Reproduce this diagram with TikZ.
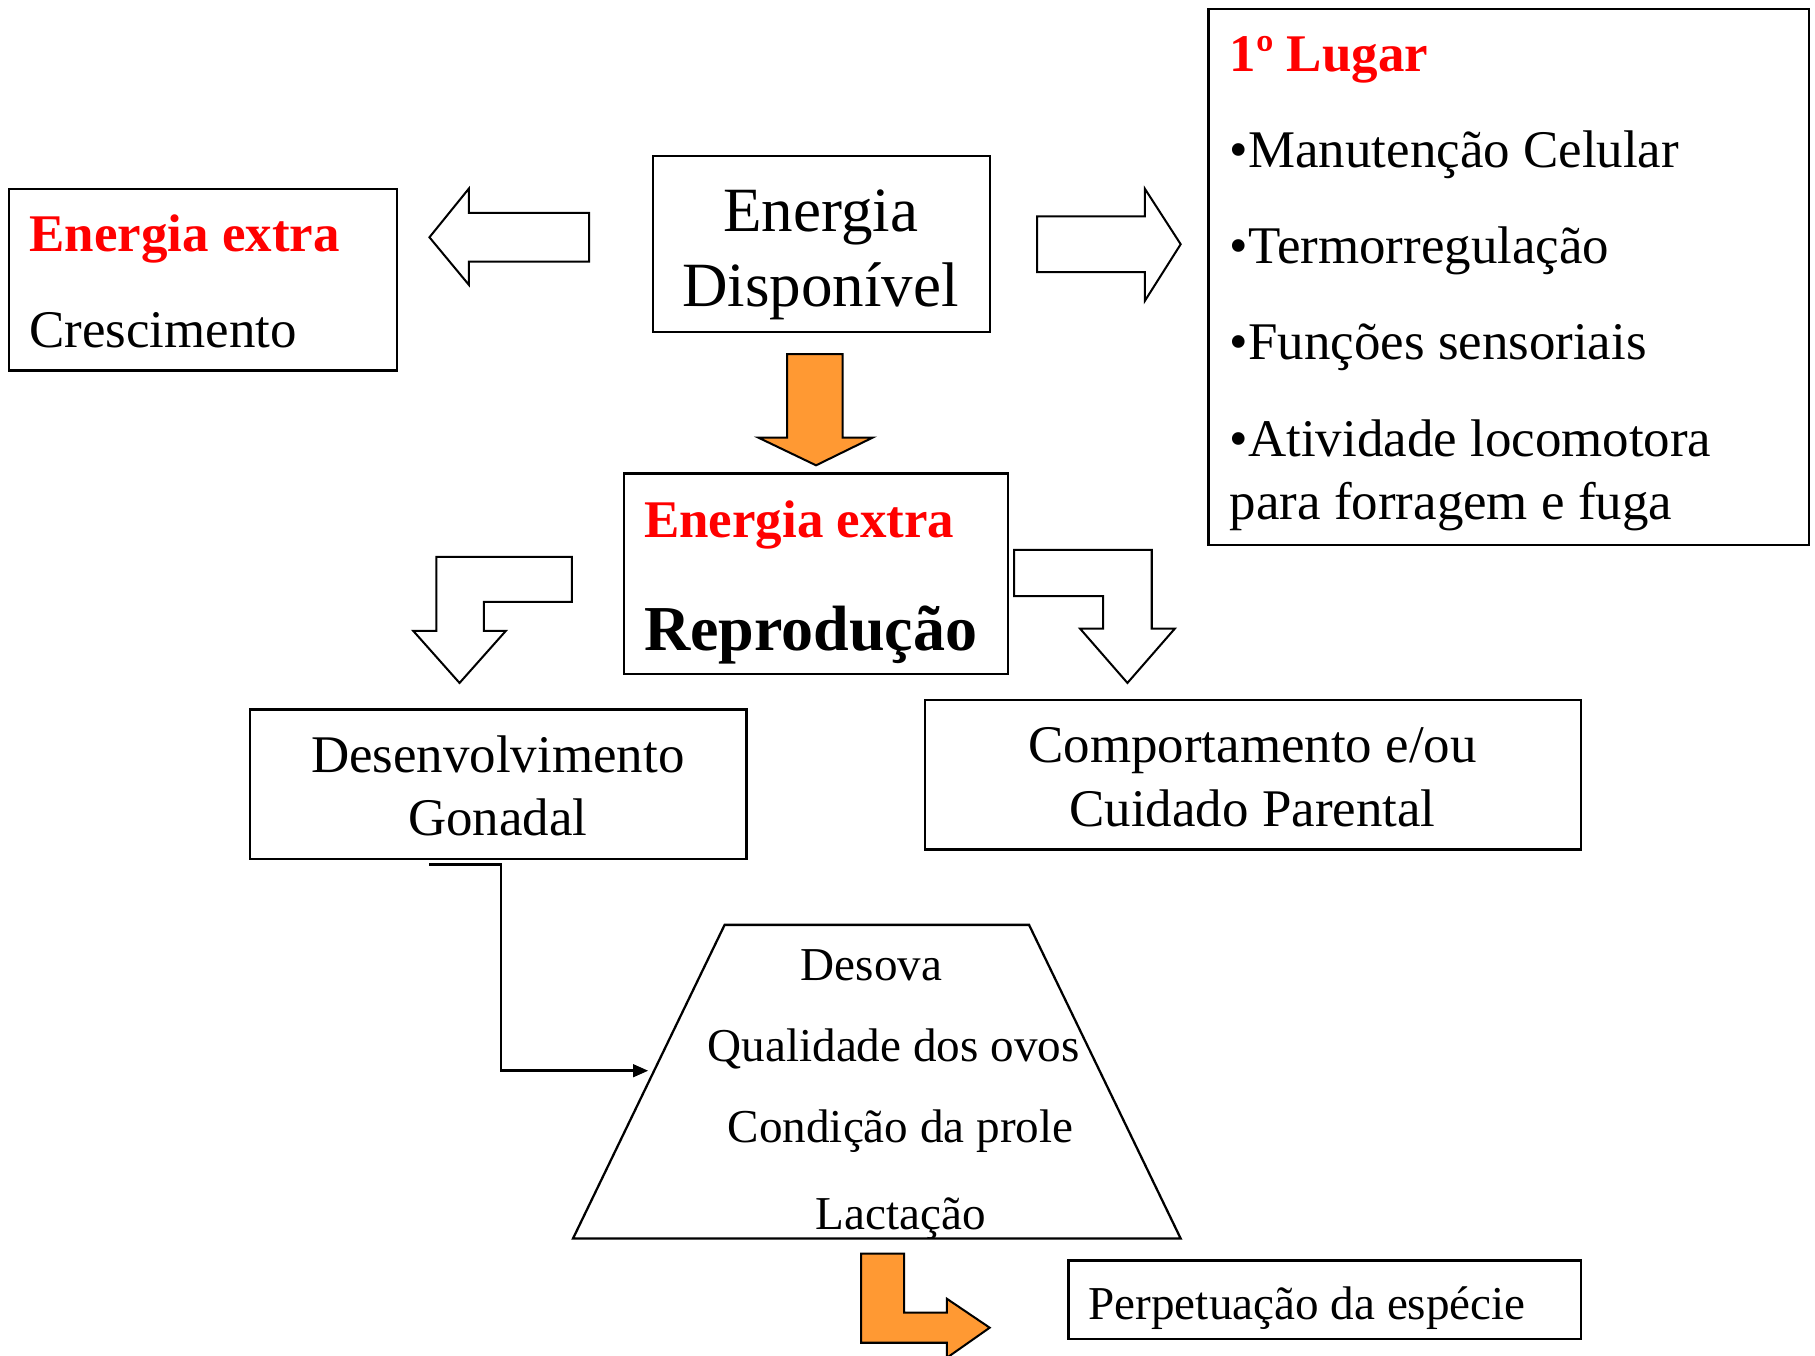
\documentclass[tikz,border=0pt]{standalone}
\usepackage{fontspec}
\setmainfont{Liberation Serif}
\usetikzlibrary{fit,arrows.meta}
\definecolor{orng}{RGB}{255,153,51}
\definecolor{redtxt}{RGB}{255,0,0}
\newcommand\fsA{\fontsize{21}{25}\selectfont}
\newcommand\fsB{\fontsize{25}{30}\selectfont}
\newcommand\fsBB{\fontsize{25.4}{30}\selectfont}
\newcommand\fsC{\fontsize{18.7}{22}\selectfont}
\begin{document}
\begin{tikzpicture}[x=0.4592pt,y=-0.4592pt,
  box/.style={draw=black,line width=0.9pt,inner sep=0pt},
  blockarrow/.style={draw=black,line width=0.8pt,fill=white,line join=miter},
  orangearrow/.style={draw=black,line width=0.8pt,fill=orng,line join=miter},
  txt/.style={inner sep=0pt,anchor=base},
  txtl/.style={inner sep=0pt,anchor=base west},
  conn/.style={draw=black,line width=1pt,-{Triangle[length=6pt,width=5pt]}}]
\useasboundingbox (0,0) rectangle (1568,1171);

% boxes
\node[box,fit={(8,163)(343,320)}] (extraL) {};
\node[box,fit={(564,135)(855,287)}] (disp) {};
\node[box,fit={(1044,8)(1563,471)}] (lugar) {};
\node[box,fit={(539,409)(871,582)}] (repro) {};
\node[box,fit={(216,613)(645,742)}] (gonad) {};
\node[box,fit={(799,605)(1366,734)}] (comport) {};
\node[box,fit={(923,1089)(1366,1157)}] (perp) {};

% trapezoid
\draw[line width=0.9pt,line join=miter] (626,799) -- (889,799) -- (1020,1070) -- (495,1070) -- cycle;
\coordinate (trapin) at (560,925);

% texts
\node[txtl,text=redtxt,font=\fsA\bfseries] (t1) at (25,217) {Energia extra};
\node[txtl,font=\fsA] (t2) at (25,300) {Crescimento};

\node[txt,font=\fsB] (t3) at (709,200) {Energia};
\node[txt,font=\fsB] (t4) at (709,265) {Disponível};

\node[txtl,text=redtxt,font=\fsA\bfseries] (t5) at (1062,62) {1º Lugar};
\node[txtl,font=\fsA] (t6) at (1062,145) {•Manutenção Celular};
\node[txtl,font=\fsA] (t7) at (1062,228) {•Termorregulação};
\node[txtl,font=\fsA] (t8) at (1062,311) {•Funções sensoriais};
\node[txtl,font=\fsA] (t9) at (1062,394) {•Atividade locomotora};
\node[txtl,font=\fsA] (t10) at (1062,449) {para forragem e fuga};

\node[txtl,text=redtxt,font=\fsA\bfseries] (t11) at (556,464) {Energia extra};
\node[txtl,font=\fsBB\bfseries] (t12) at (556,562) {Reprodução};

\node[txt,font=\fsA] (t13) at (430,667) {Desenvolvimento};
\node[txt,font=\fsA] (t14) at (430,722) {Gonadal};

\node[txt,font=\fsA] (t15) at (1082,659) {Comportamento e/ou};
\node[txt,font=\fsA] (t16) at (1082,714) {Cuidado Parental};

\node[txt,font=\fsC] (t17) at (753,847) {Desova};
\node[txt,font=\fsC] (t18) at (772,917) {Qualidade dos ovos};
\node[txt,font=\fsC] (t19) at (778,987) {Condição da prole};
\node[txt,font=\fsC] (t20) at (778,1062) {Lactação};

\node[txtl,font=\fsC] (t21) at (940,1140) {Perpetuação da espécie};

% block arrows
\draw[blockarrow] (371,205) -- (405,163) -- (405,184) -- (509,184) -- (509,226) -- (405,226) -- (405,246) -- cycle;
\draw[blockarrow] (1020,211) -- (989,163) -- (989,187) -- (896,187) -- (896,235) -- (989,235) -- (989,260) -- cycle;
\draw[orangearrow] (705,402) -- (655,378) -- (680,378) -- (680,306) -- (728,306) -- (728,378) -- (754,378) -- cycle;
\draw[blockarrow] (397,590) -- (357,545) -- (377,545) -- (377,481) -- (494,481) -- (494,520) -- (418,520) -- (418,545) -- (437,545) -- cycle;
\draw[blockarrow] (974,590) -- (933,543) -- (953,543) -- (953,515) -- (876,515) -- (876,475) -- (995,475) -- (995,543) -- (1015,543) -- cycle;
\draw[orangearrow] (744,1083) -- (781,1083) -- (781,1134) -- (818,1134) -- (818,1122) -- (855,1147) -- (818,1173) -- (818,1160) -- (744,1160) -- cycle;

% connector
\coordinate (cstart) at (371,747);
\draw[conn] (cstart) -- (433,747) -- (433,925) -- (trapin);
\end{tikzpicture}
\end{document}
